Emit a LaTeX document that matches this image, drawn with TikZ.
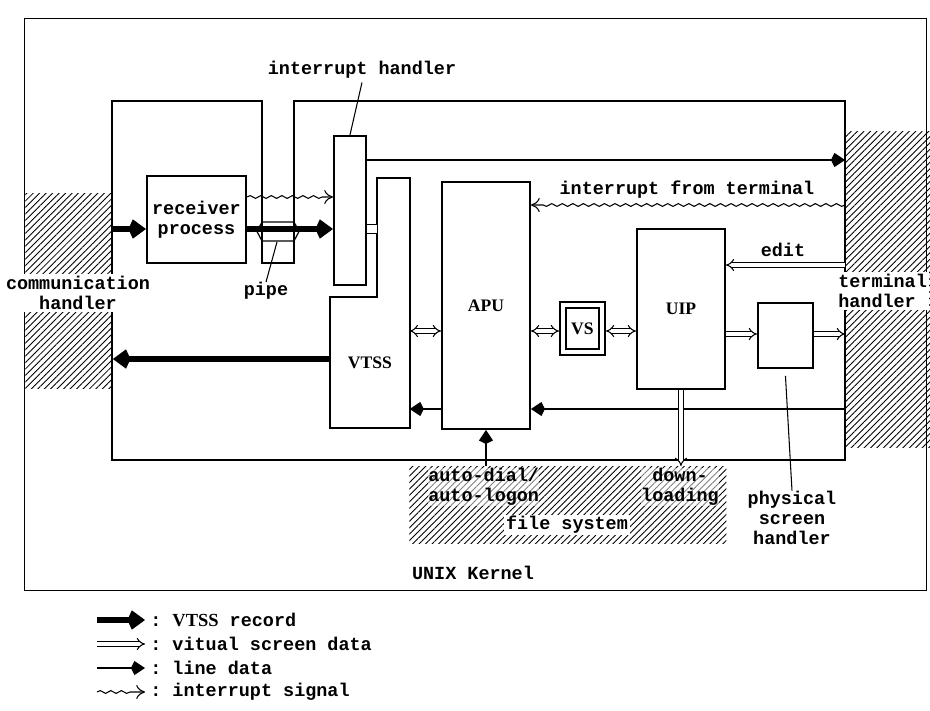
\documentclass[tikz,border=0pt]{standalone}
\usepackage{fontspec}
\setmonofont{Liberation Mono}
\newfontfamily\boxfont{Liberation Serif}
\usetikzlibrary{arrows.meta,patterns.meta,decorations.pathmorphing}

\begin{document}
\begin{tikzpicture}[x=0.2mm,y=-0.2mm,
          every node/.style={font=\ttfamily\bfseries\fontsize{10.5pt}{11.5pt}\selectfont,
                             text=black,align=center,inner sep=0pt},
          box/.style={draw,line width=1.1pt},
          hatch/.style={pattern={Lines[angle=45,distance=2.6pt,line width=0.5pt]}},
          rec/.style={line width=3.2pt,-{Kite[length=10pt,width=11pt,inset=2.5pt]}},
          ldata/.style={line width=1.5pt,-{Kite[length=8pt,width=8pt,inset=2pt]}},
          vsd/.style={double,double distance=1.8pt,line width=0.6pt,-{Implies[length=5pt,width=10pt]}},
          vsdd/.style={vsd,{Implies[length=5pt,width=10pt]}-{Implies[length=5pt,width=10pt]}},
          intr/.style={line width=0.6pt,decorate,
                       decoration={snake,amplitude=0.8pt,segment length=6pt,post length=6pt},
                       -{To[length=5pt,width=8pt]}},
          blabel/.style={font=\boxfont\bfseries\fontsize{10pt}{12pt}\selectfont},
        ]
        \useasboundingbox (0,0) rectangle (930,711);
        % signal levels
        \coordinate (lvTop)  at (0,160);
        \coordinate (lvWav)  at (0,197);
        \coordinate (lvIntT) at (0,205);
        \coordinate (lvRec)  at (0,229);
        \coordinate (lvEdit) at (0,265);
        \coordinate (lvVS)   at (0,331);
        \coordinate (lvPS)   at (0,334);
        \coordinate (lvOut)  at (0,359);
        \coordinate (lvLow)  at (0,409);

        % hatched outside parts
        \node[hatch,minimum width=1.74cm,minimum height=3.9cm,anchor=north west]
              (comm) at (25,193) {};
        \node[hatch,minimum width=1.8cm,minimum height=6.32cm,anchor=north west]
              (term) at (845,131) {};
        \node[hatch,minimum width=6.34cm,minimum height=1.54cm,anchor=north west]
              (fs) at (409,466) {};

        % UNIX kernel frame and process space
        \draw[line width=0.5pt] (24,18) rectangle (926,590);
        \node (kern) at (473,573) {UNIX Kernel};
        \draw[line width=0.7pt] (112,101) -- (262,101) -- (262,263) -- (294,263)
              -- (294,101) -- (845,101) -- (845,460) -- (112,460) -- cycle;

        % pipe
        \draw[line width=0.7pt] (257,231.5) -- (262,222) -- (294,222) -- (299,231.5)
              -- (294,241) -- (262,241) -- cycle;
        \coordinate (pipe) at (277,242);
        \node (pipelbl) at (266,291) {pipe};
        \draw[line width=0.6pt] (pipe) -- (pipelbl.north);

        % processes
        \node[box,minimum width=1.98cm,minimum height=1.74cm,anchor=north west]
              (recv) at (146,175) {receiver\\process};
        \node[box,minimum width=0.64cm,minimum height=2.98cm,anchor=north west]
              (ih) at (333,135) {};
        \node (ihlbl) at (362,70) {interrupt handler};
        \draw[line width=0.6pt] ([yshift=-2pt]ihlbl.south) -- (ih.north);

        \node[blabel,minimum width=1.58cm,minimum height=2.6cm,anchor=north west]
              (vtss) at (330,297) {VTSS};
        \coordinate (vtssTop) at (377,178);
        \draw[box] (vtss.south west) -- (vtss.north west) -- (vtssTop |- vtss.north)
              -- (vtssTop) -- (vtss.north east |- vtssTop) -- (vtss.south east) -- cycle;

        \node[box,blabel,minimum width=1.76cm,minimum height=4.94cm,anchor=north west]
              (apu) at (441,181) {APU};
        \node[box,minimum width=0.9cm,minimum height=1.06cm,anchor=north west]
              (vs) at (559,301) {};
        \node[box,blabel,minimum width=0.66cm,minimum height=0.82cm]
              (vsin) at (vs.center) {VS};
        \node[box,blabel,minimum width=1.76cm,minimum height=3.2cm,anchor=north west]
              (uip) at (636,228) {UIP};
        \node[box,minimum width=1.1cm,minimum height=1.3cm,anchor=north west]
              (psh) at (757,302) {};
        \node (pshlbl) at (792,518) {physical\\screen\\handler};
        \draw[line width=0.6pt] ([yshift=-1.4mm]psh.south) -- (pshlbl.north);

        % labels on hatched parts
        \node[fill=white,inner sep=1pt] (commlbl) at (78,293) {communication\\handler};
        \node[fill=white,inner sep=1pt,align=left,anchor=east]
              (termlbl) at (929,291) {terminal\\handler};
        \node[fill=white,fill opacity=0.5,text opacity=1,align=left,anchor=west]
              (dial) at (428,487) {auto-dial/\\auto-logon};
        \node[fill=white,fill opacity=0.5,text opacity=1] (dload) at (680,487) {down-\\loading};
        \node[fill=white,inner sep=1pt] (fslbl) at (567,525) {file system};

        % connectors
        \draw[rec] (comm.east |- lvRec) -- (recv.west |- lvRec);
        \draw[rec] (recv.east |- lvRec) -- (ih.west |- lvRec);
        \draw[intr] (recv.east |- lvWav) -- (ih.west |- lvWav);
        \draw[double,double distance=5pt,line width=0.6pt] (ih.east |- lvRec) -- (vtssTop |- lvRec);
        \draw[ldata] (ih.east |- lvTop) -- (term.west |- lvTop);
        \draw[intr] (term.west |- lvIntT) -- (apu.east |- lvIntT);
        \node (intlbl) at (687,190) {interrupt from terminal};
        \draw[vsd] (term.west |- lvEdit) -- (uip.east |- lvEdit);
        \node (editlbl) at (783,250) {edit};
        \draw[vsdd] (vtss.east |- lvVS) -- (apu.west |- lvVS);
        \draw[vsdd] (apu.east |- lvVS) -- (vs.west |- lvVS);
        \draw[vsdd] (vs.east |- lvVS) -- (uip.west |- lvVS);
        \draw[vsd] (uip.east |- lvPS) -- (psh.west |- lvPS);
        \draw[vsd] (psh.east |- lvPS) -- (term.west |- lvPS);
        \draw[ldata] (term.west |- lvLow) -- (apu.east |- lvLow);
        \draw[ldata] (apu.west |- lvLow) -- (vtss.east |- lvLow);
        \draw[rec] (vtss.west |- lvOut) -- (comm.east |- lvOut);
        \draw[ldata] (apu.south |- fs.north) -- (apu.south);
        \draw[vsd] (uip.south) -- (uip.south |- fs.north);

        % legend
        \foreach \sty/\txt [count=\i] in {rec/{\boxfont VTSS} record,vsd/vitual screen data,
                                          ldata/line data,intr/interrupt signal} {
          \node[anchor=west] (key\i) at (150,596+24*\i) {: \txt};
          \coordinate (keys\i) at (97,596+24*\i);
          \draw[\sty] (keys\i) -- ([xshift=-1mm]key\i.west);
        }
      \end{tikzpicture}
\end{document}
